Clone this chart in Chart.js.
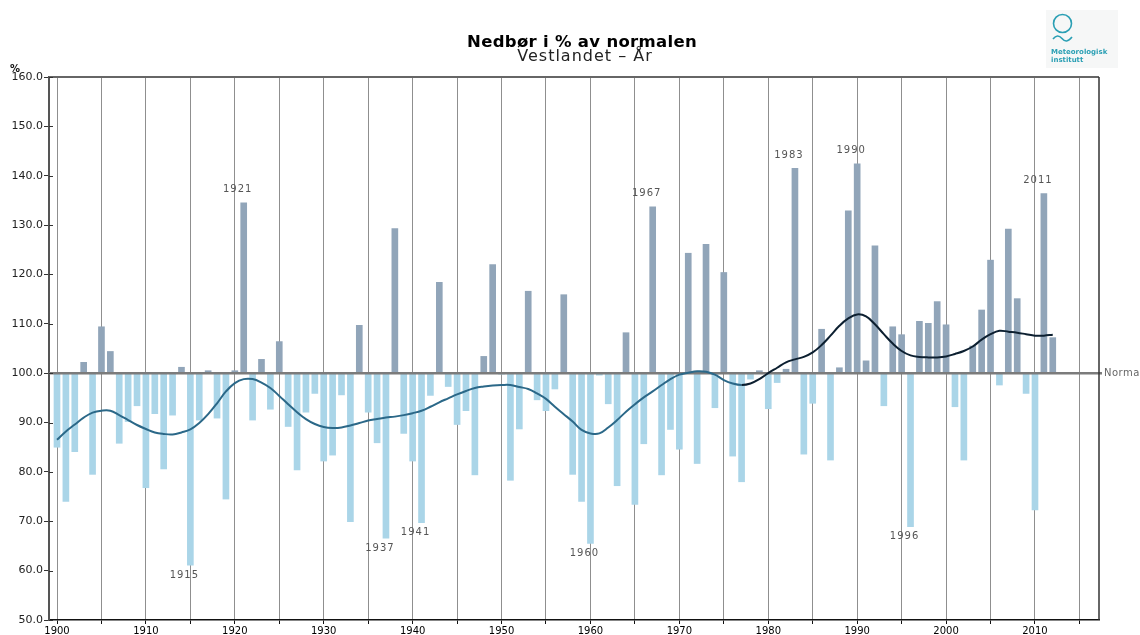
<!DOCTYPE html>
<html>
<head>
<meta charset="utf-8">
<script src="https://cdn.jsdelivr.net/npm/chart.js@4.4.1/dist/chart.umd.min.js"></script>
<style>
  html, body { margin: 0; padding: 0; background: #fff; }
  #wrap { position: relative; width: 1140px; height: 635px; }
</style>
</head>
<body>
<div id="wrap"><canvas id="chart" width="1140" height="635"></canvas></div>
<script>
// === Data (Vestlandet, annual precipitation in % of normal) ===
const firstYear = 1900;
const precip = [
  85.0, 74.0, 84.1, 102.2, 79.5, 109.4, 104.4, 85.8, 90.2, 93.4,
  76.8, 91.8, 80.6, 91.5, 101.2, 61.1, 90.5, 100.5, 90.9, 74.5,
  100.5, 134.5, 90.5, 102.8, 92.7, 106.4, 89.2, 80.4, 92.1, 95.9,
  82.2, 83.4, 95.6, 69.9, 109.7, 92.1, 85.9, 66.6, 129.3, 87.8,
  82.2, 69.7, 95.5, 118.4, 97.3, 89.6, 92.4, 79.4, 103.4, 122.0,
  99.8, 78.3, 88.7, 116.6, 94.6, 92.4, 96.8, 115.9, 79.5, 74.0,
  65.5, 99.6, 93.8, 77.2, 108.2, 73.4, 85.7, 133.7, 79.4, 88.6,
  84.6, 124.3, 81.7, 126.1, 93.0, 120.4, 83.2, 78.0, 98.8, 100.5,
  92.8, 98.1, 100.8, 141.5, 83.6, 93.9, 108.9, 82.4, 101.1, 132.9,
  142.4, 102.5, 125.8, 93.4, 109.4, 107.8, 68.9, 110.5, 110.1, 114.5,
  109.8, 93.2, 82.4, 105.5, 112.8, 122.9, 97.6, 129.2, 115.1, 95.9,
  72.3, 136.4, 107.2
];
// smoothed curve, same years
const smooth = [
  86.5, 88.2, 89.6, 91.0, 92.0, 92.4, 92.4, 91.5, 90.5, 89.5,
  88.7, 88.0, 87.7, 87.6, 88.0, 88.6, 89.9, 91.7, 93.9, 96.3,
  98.0, 98.8, 98.8, 98.1, 97.0, 95.4, 93.7, 92.1, 90.7, 89.7,
  89.1, 88.9, 89.0, 89.4, 89.9, 90.4, 90.7, 91.0, 91.2, 91.5,
  91.9, 92.4, 93.2, 94.1, 94.9, 95.7, 96.4, 97.0, 97.3, 97.5,
  97.6, 97.6, 97.2, 96.8, 95.9, 94.8, 93.2, 91.7, 90.2, 88.5,
  87.8, 87.8, 89.0, 90.5, 92.2, 93.7, 95.1, 96.3, 97.6, 98.8,
  99.7, 100.1, 100.4, 100.3, 99.7, 98.6, 97.9, 97.6, 97.9, 98.8,
  100.0, 101.1, 102.2, 102.8, 103.3, 104.2, 105.7, 107.6, 109.6, 111.1,
  111.9, 111.5, 109.9, 107.9, 106.0, 104.5, 103.6, 103.3, 103.2, 103.2,
  103.4, 103.9, 104.5, 105.4, 106.8, 107.9, 108.6, 108.4, 108.2, 107.9,
  107.6, 107.6, 107.8
];
const markedYears = [1915, 1921, 1937, 1941, 1960, 1967, 1983, 1990, 1996, 2011];
const yTicks = [50, 60, 70, 80, 90, 100, 110, 120, 130, 140, 150, 160];
const xTicks = [1900, 1905, 1910, 1915, 1920, 1925, 1930, 1935, 1940, 1945, 1950, 1955,
                1960, 1965, 1970, 1975, 1980, 1985, 1990, 1995, 2000, 2005, 2010, 2015];

const NORMAL = 100;
const COL_ABOVE = "#91a5b9";
const COL_BELOW = "#aad5e8";
const LINE_EARLY = "#2b6888";
const LINE_LATE = "#0c1f30";

const barData = precip.map((v, i) => ({ x: firstYear + i, y: [NORMAL, v] }));
const lineData = smooth.map((v, i) => ({ x: firstYear + i, y: v }));

// === Decorations: normal line, frame, labels, title, logo ===
const decor = {
  id: "decor",
  afterDatasetDraw(chart, args) {
    if (args.index !== 0) return;
    const { ctx, chartArea: a, scales: { y } } = chart;
    const yy = y.getPixelForValue(NORMAL);
    ctx.save();
    ctx.strokeStyle = "#7b7b7b";
    ctx.lineWidth = 2.5;
    ctx.beginPath();
    ctx.moveTo(a.left, yy);
    ctx.lineTo(a.right + 3, yy);
    ctx.stroke();
    ctx.restore();
  },
  afterDraw(chart) {
    const { ctx, chartArea: a, scales: { x, y } } = chart;
    ctx.save();
    // top and right frame
    ctx.strokeStyle = "#666";
    ctx.lineWidth = 2;
    ctx.beginPath();
    ctx.moveTo(a.left, a.top);
    ctx.lineTo(a.right, a.top);
    ctx.stroke();
    ctx.strokeStyle = "#333";
    ctx.lineWidth = 1.5;
    ctx.beginPath();
    ctx.moveTo(a.right, a.top);
    ctx.lineTo(a.right, a.bottom);
    ctx.stroke();
    // inner y ticks
    ctx.strokeStyle = "#333";
    ctx.lineWidth = 1;
    yTicks.forEach(v => {
      const py = Math.round(y.getPixelForValue(v)) + 0.5;
      ctx.beginPath();
      ctx.moveTo(a.left, py);
      ctx.lineTo(a.left + 4, py);
      ctx.stroke();
    });
    // Normal label
    ctx.fillStyle = "#666";
    ctx.font = "10px 'DejaVu Sans'";
    ctx.textBaseline = "middle";
    ctx.textAlign = "left";
    ctx.letterSpacing = "0.5px";
    ctx.fillText("Normal", a.right + 5, y.getPixelForValue(NORMAL));
    // year annotations
    ctx.fillStyle = "#555";
    ctx.textAlign = "center";
    ctx.letterSpacing = "1px";
    markedYears.forEach(yr => {
      const v = precip[yr - firstYear];
      const px = x.getPixelForValue(yr) - 6;
      const py = y.getPixelForValue(v) + (v > NORMAL ? -13 : 10);
      ctx.fillText(String(yr), px, py);
    });
    // % unit
    ctx.letterSpacing = "0px";
    ctx.fillStyle = "#111";
    ctx.font = "bold 10px 'DejaVu Sans'";
    ctx.textAlign = "left";
    ctx.fillText("%", 10, 69);
    // titles
    ctx.textAlign = "center";
    ctx.fillStyle = "#000";
    ctx.letterSpacing = "0.3px";
    ctx.font = "bold 16.5px 'DejaVu Sans'";
    ctx.fillText("Nedbør i % av normalen", 582, 43);
    ctx.fillStyle = "#222";
    ctx.letterSpacing = "1px";
    ctx.font = "16px 'DejaVu Sans'";
    ctx.fillText("Vestlandet \u2013 År", 585, 57);
    ctx.letterSpacing = "0px";
    // logo
    ctx.fillStyle = "#f6f7f7";
    ctx.fillRect(1046, 10, 72, 58);
    ctx.strokeStyle = "#2a9fb4";
    ctx.lineWidth = 1.6;
    ctx.beginPath();
    ctx.arc(1062.5, 23.5, 9, 0, Math.PI * 2);
    ctx.stroke();
    ctx.beginPath();
    ctx.moveTo(1053, 39);
    ctx.bezierCurveTo(1056, 35, 1059, 35, 1062, 38.5);
    ctx.bezierCurveTo(1065, 42, 1068, 42, 1072, 37);
    ctx.stroke();
    ctx.fillStyle = "#2a9fb4";
    ctx.font = "bold 7px 'DejaVu Sans'";
    ctx.textAlign = "left";
    ctx.fillText("Meteorologisk", 1051, 52.5);
    ctx.fillText("institutt", 1051, 60);
    ctx.restore();
  }
};

new Chart(document.getElementById("chart"), {
  type: "bar",
  data: {
    datasets: [
      {
        type: "bar",
        data: barData,
        backgroundColor: c => (c.raw && c.raw.y[1] >= NORMAL ? COL_ABOVE : COL_BELOW),
        borderWidth: 0,
        barThickness: 6,
        order: 2
      },
      {
        type: "line",
        data: lineData,
        borderColor: LINE_EARLY,
        borderWidth: 2,
        pointRadius: 0,
        tension: 0.4,
        fill: false,
        segment: {
          borderColor: c => (c.p0.parsed.x >= 1977 ? LINE_LATE : LINE_EARLY)
        },
        order: 1
      }
    ]
  },
  options: {
    responsive: false,
    animation: false,
    layout: { padding: { top: 77, right: 41, left: 0, bottom: 0 } },
    plugins: { legend: { display: false }, tooltip: { enabled: false } },
    scales: {
      x: {
        type: "linear",
        offset: false,
        min: 1899.1,
        max: 2017.2,
        afterBuildTicks: s => { s.ticks = xTicks.map(v => ({ value: v })); },
        afterFit: s => { s.height = 15; },
        ticks: {
          autoSkip: false,
          maxRotation: 0,
          padding: 1,
          color: "#000",
          font: { family: "DejaVu Sans", size: 10 },
          callback: v => (v % 10 === 0 ? String(v) : "")
        },
        grid: { color: "#8f8f8f", lineWidth: 1, tickLength: 4, tickColor: "#111", offset: false },
        border: { color: "#111", width: 1.5 }
      },
      y: {
        min: 50,
        max: 160,
        afterBuildTicks: s => { s.ticks = yTicks.map(v => ({ value: v })); },
        afterFit: s => { s.width = 49; },
        ticks: {
          padding: 1,
          color: "#222",
          font: { family: "DejaVu Sans", size: 11 },
          callback: v => Number(v).toFixed(1)
        },
        grid: { drawOnChartArea: false, tickLength: 5, tickColor: "#333" },
        border: { color: "#555", width: 2 }
      }
    }
  },
  plugins: [decor]
});
</script>
</body>
</html>
